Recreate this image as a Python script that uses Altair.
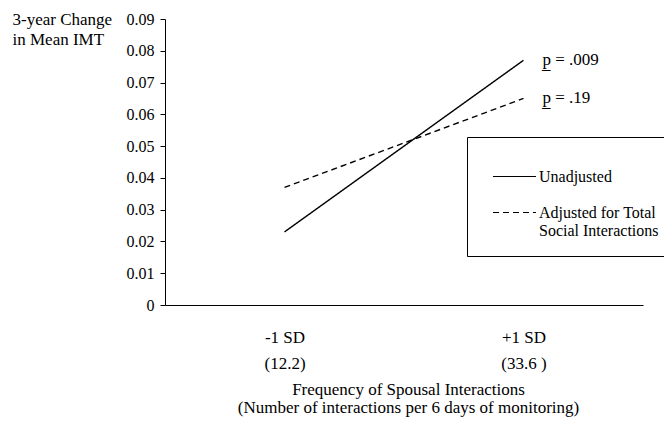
import altair as alt
import pandas as pd

categories = ["-1 SD|(12.2)", "+1 SD|(33.6 )"]
series_names = ["Unadjusted", "Adjusted for Total Social Interactions"]
unadjusted = [0.023, 0.077]
adjusted = [0.037, 0.065]
p_labels = ["p\u0332 = .009", "p\u0332 = .19"]
y_ticks = [0, 0.01, 0.02, 0.03, 0.04, 0.05, 0.06, 0.07, 0.08, 0.09]

rows = []
for c, v in zip(categories, unadjusted):
    rows.append({"cat": c, "series": series_names[0], "value": v})
for c, v in zip(categories, adjusted):
    rows.append({"cat": c, "series": series_names[1], "value": v})
df = pd.DataFrame(rows)

pdf = pd.DataFrame({
    "cat": [categories[1], categories[1]],
    "value": [unadjusted[1], adjusted[1]],
    "label": p_labels,
})

FONT = "Liberation Serif"

x = alt.X(
    "cat:N",
    sort=categories,
    scale=alt.Scale(type="point", padding=0.5),
    axis=alt.Axis(
        title=["Frequency of Spousal Interactions", "(Number of interactions per 6 days of monitoring)"],
        labelExpr="split(datum.label, '|')",
        labelAngle=0,
        ticks=False,
        labelPadding=32,
        labelLineHeight=26,
        labelFontSize=17,
        labelBaseline="middle",
        titleFontSize=17,
        titleFontWeight="normal",
        titleLineHeight=18,
        titleBaseline="top",
        titleY=76,
        titleX=243,
        domainColor="black",
        labelColor="black",
        titleColor="black",
    ),
)

y = alt.Y(
    "value:Q",
    scale=alt.Scale(domain=[0, 0.09], nice=False),
    axis=alt.Axis(
        title=["3-year Change", "in Mean IMT"],
        titleAngle=0,
        titleAlign="left",
        titleBaseline="top",
        titleX=-153,
        titleY=-8,
        titleFontSize=17,
        titleFontWeight="normal",
        titleLineHeight=20,
        values=y_ticks,
        labelExpr="datum.value == 0 ? '0' : format(datum.value, '.2f')",
        labelOverlap=False,
        tickSize=5,
        labelPadding=6,
        labelFontSize=16,
        grid=False,
        domainColor="black",
        tickColor="black",
        labelColor="black",
        titleColor="black",
    ),
)

lines = alt.Chart(df).mark_line(color="black", strokeWidth=1.4).encode(
    x=x,
    y=y,
    strokeDash=alt.StrokeDash(
        "series:N",
        sort=series_names,
        scale=alt.Scale(domain=series_names, range=[[1, 0], [6, 4]]),
        legend=alt.Legend(
            title=None,
            orient="none",
            legendX=302,
            legendY=118,
            strokeColor="black",
            padding=17,
            symbolType="stroke",
            symbolSize=1849,
            symbolOffset=8,
            symbolStrokeColor="black",
            symbolStrokeWidth=1.2,
            labelFont=FONT,
            labelFontSize=16,
            labelColor="black",
            labelLimit=400,
            labelOffset=2,
            rowPadding=5,
            labelExpr="datum.label == 'Adjusted for Total Social Interactions' ? ['Adjusted for Total', 'Social Interactions'] : datum.label",
        ),
    ),
)

texts = alt.Chart(pdf).mark_text(
    align="left", baseline="middle", dx=19, font=FONT, fontSize=17, color="black"
).encode(x=x, y=y, text="label:N")

chart = alt.layer(lines, texts).properties(
    width=478,
    height=286,
    autosize=alt.AutoSizeParams(type="none"),
    padding={"left": 157, "top": 11, "right": 21, "bottom": 112},
).configure(font=FONT).configure_view(stroke=None).configure_axis(
    labelFont=FONT, titleFont=FONT
)

chart.save("out.html", embed_options={"renderer": "svg", "actions": False})
